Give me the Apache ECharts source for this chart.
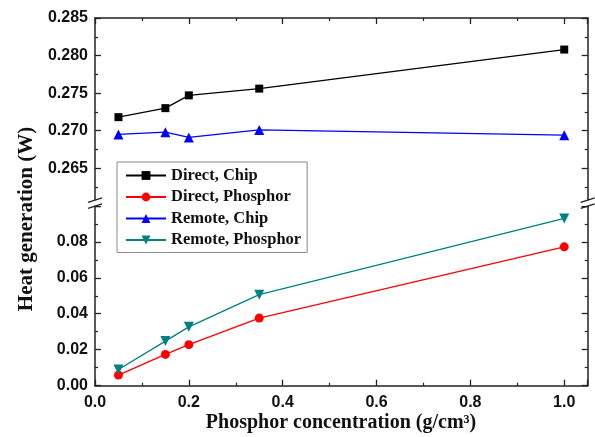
<!DOCTYPE html>
<html><head><meta charset="utf-8">
<script src="https://cdn.jsdelivr.net/npm/echarts@6/dist/echarts.min.js"></script>
<style>html,body{margin:0;padding:0;background:#fff}#c{width:595px;height:437px}</style>
</head><body><div id="c"></div>
<script>
var concentration = [0.05, 0.15, 0.2, 0.35, 1.0];
var directChip = [0.2718, 0.2730, 0.2747, 0.2756, 0.2808];
var remoteChip = [0.2695, 0.2698, 0.2691, 0.2701, 0.2694];
var directPhosphor = [0.0059, 0.0174, 0.0228, 0.0376, 0.0772];
var remotePhosphor = [0.0090, 0.0248, 0.0327, 0.0506, 0.0930];
var seriesNames = ['Direct, Chip', 'Direct, Phosphor', 'Remote, Chip', 'Remote, Phosphor'];
var xTitle = 'Phosphor concentration (g/cm\u00B3)';
var yTitle = 'Heat generation (W)';

function pairs(ys){ return concentration.map(function(x,i){ return [x, ys[i]]; }); }

var axisCol = '#222';
var labelFont = {fontFamily:'Liberation Sans', fontWeight:'bold', fontSize:16, color:'#111'};
var L = 95, R = 7.3;

function xAx(grid, pos, labels){
  return {type:'value', gridIndex:grid, position:pos, min:0, max:1.05, interval:0.2,
    axisLine:{show:true, onZero:false, lineStyle:{color:axisCol, width:1.5}},
    axisTick:{show:true, inside:true, length:6, lineStyle:{color:axisCol, width:1.3}},
    minorTick:{show:true, splitNumber:2, length:3, lineStyle:{color:axisCol, width:1.2}},
    splitLine:{show:false},
    axisLabel: labels ? Object.assign({show:true, margin:9, formatter:function(v){return v.toFixed(1);}, showMaxLabel:false}, labelFont) : {show:false}
  };
}
function yAx(grid, pos, min, max, interval, dec, labels){
  return {type:'value', gridIndex:grid, position:pos, min:min, max:max, interval:interval,
    axisLine:{show:true, onZero:false, lineStyle:{color:axisCol, width:1.5}},
    axisTick:{show:true, inside:true, length:6, lineStyle:{color:axisCol, width:1.3}},
    minorTick:{show:true, splitNumber:2, length:3, lineStyle:{color:axisCol, width:1.2}},
    splitLine:{show:false},
    axisLabel: labels ? Object.assign({show:true, margin:7, formatter:function(v){return v.toFixed(dec);}}, labelFont) : {show:false}
  };
}
var topY = yAx(0,'left',0.26,0.285,0.005,3,true); topY.axisLabel.showMinLabel=false;
var botY = yAx(1,'left',0,0.1,0.02,2,true); botY.axisLabel.showMaxLabel=false;

function mk(name, data, xi, yi, color, symbol, size, rot){
  return {name:name, type:'line', xAxisIndex:xi, yAxisIndex:yi, data:pairs(data),
    symbol:symbol, symbolSize:size, symbolRotate:rot||0, color:color,
    lineStyle:{color:color, width:1.3}, itemStyle:{color:color}, animation:false};
}

var chart = echarts.init(document.getElementById('c'), null, {renderer:'canvas'});
function slash(x, y){
  return [
    {type:'rect', shape:{x:x-7, y:y-2.5, width:14, height:5.5}, style:{fill:'#fff'}, z:100},
    {type:'line', shape:{x1:x-7, y1:y-0.5, x2:x+7, y2:y-5}, style:{stroke:axisCol, lineWidth:1.3}, z:101},
    {type:'line', shape:{x1:x-7, y1:y+5.5, x2:x+7, y2:y+1}, style:{stroke:axisCol, lineWidth:1.3}, z:101}
  ];
}
var breakY = 202.8;
chart.setOption({
  animation:false,
  grid:[
    {left:L, right:R, top:18, height:187.8},
    {left:L, right:R, top:205.8, bottom:51.3}
  ],
  xAxis:[ xAx(0,'top',false), xAx(1,'bottom',true) ],
  yAxis:[ topY, yAx(0,'right',0.26,0.285,0.005,3,false), botY, yAx(1,'right',0,0.1,0.02,2,false) ],
  legend:{
    orient:'vertical', left:117, top:162, padding:[5,6,4,8], itemGap:4.5,
    itemWidth:40, itemHeight:11, backgroundColor:'#fff', borderColor:'#888', borderWidth:1,
    textStyle:{fontFamily:'Liberation Serif', fontWeight:'bold', fontSize:16.5, lineHeight:16, color:'#111'},
    data:seriesNames
  },
  series:[
    mk(seriesNames[0], directChip, 0, 0, '#000000', 'rect', 8),
    mk(seriesNames[1], directPhosphor, 1, 2, '#ff0000', 'circle', 9),
    mk(seriesNames[2], remoteChip, 0, 0, '#0000ff', 'triangle', 10),
    mk(seriesNames[3], remotePhosphor, 1, 2, '#008080', 'triangle', 10, 180)
  ],
  graphic: slash(L, breakY).concat(slash(595-R, breakY)).concat([
    {type:'text', x:341, y:423, style:{text:xTitle, fontFamily:'Liberation Serif', fontWeight:'bold', fontSize:20, fill:'#111', textAlign:'center', textVerticalAlign:'middle'}},
    {type:'text', x:27, y:219, rotation:Math.PI/2, style:{text:yTitle, fontFamily:'Liberation Serif', fontWeight:'bold', fontSize:21, fill:'#111', textAlign:'center', textVerticalAlign:'middle'}}
  ])
});
</script></body></html>
